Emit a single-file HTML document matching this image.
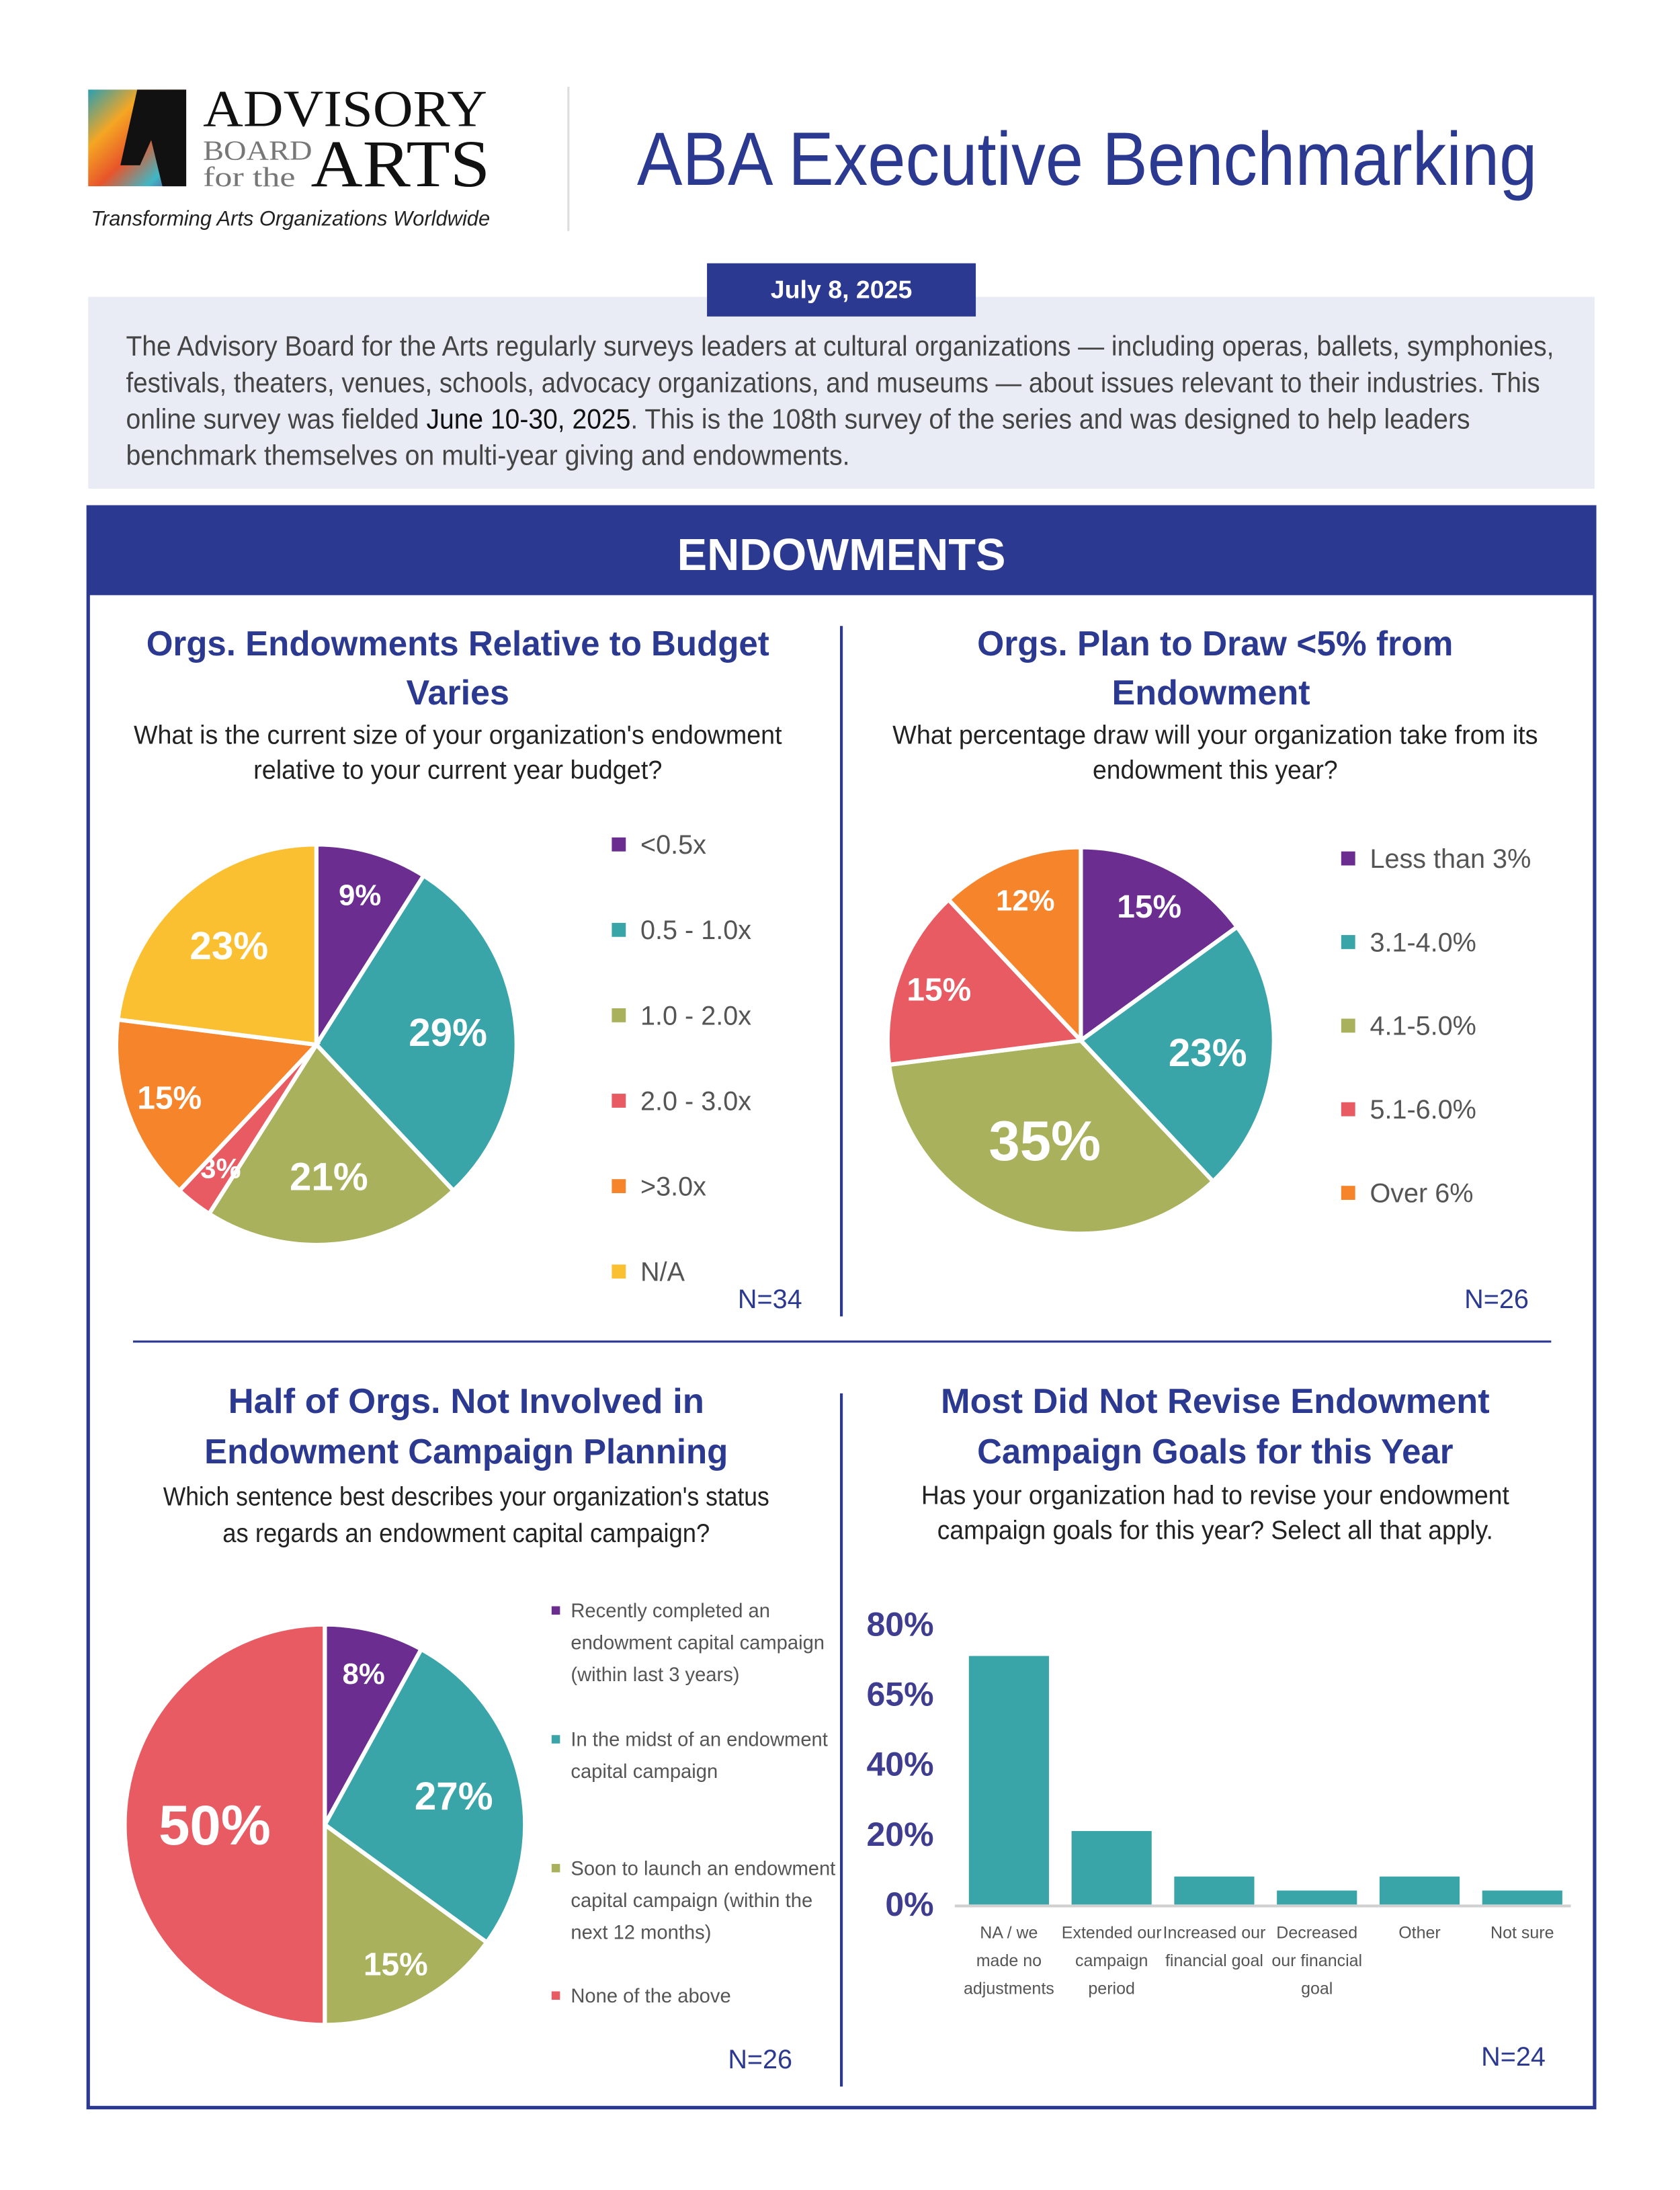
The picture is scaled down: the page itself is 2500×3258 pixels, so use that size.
<!DOCTYPE html>
<html><head><meta charset="utf-8"><title>ABA Executive Benchmarking</title>
<style>
html,body{margin:0;padding:0;background:#fff;}
svg{display:block;font-family:"Liberation Sans",sans-serif;}
</style></head>
<body>
<svg id="page" width="2500" height="3258" viewBox="0 0 1200 1563.84" xmlns="http://www.w3.org/2000/svg">
<defs>
<linearGradient id="logoGrad" x1="0" y1="0" x2="1" y2="1">
<stop offset="0" stop-color="#2a9fb0"/><stop offset="0.3" stop-color="#f5a623"/><stop offset="0.55" stop-color="#e8552a"/><stop offset="0.8" stop-color="#3fb7c4"/><stop offset="1" stop-color="#6b2d8f"/>
</linearGradient>
</defs>
<rect width="1200" height="1564" fill="#fff"/>
<g>
<rect x="63" y="64" width="70" height="69" fill="url(#logoGrad)"/>
<polygon points="98,64 133,64 133,133 116,133 108,100 100,118 86,118" fill="#111"/>
<text x="145" y="90" font-family="Liberation Serif,serif" font-size="37" fill="#111" textLength="203" lengthAdjust="spacingAndGlyphs">ADVISORY</text>
<text x="145" y="114" font-family="Liberation Serif,serif" font-size="20" fill="#777" textLength="78" lengthAdjust="spacingAndGlyphs">BOARD</text>
<text x="145" y="133" font-family="Liberation Serif,serif" font-size="20" fill="#777" textLength="66" lengthAdjust="spacingAndGlyphs">for the</text>
<text x="222" y="133" font-family="Liberation Serif,serif" font-size="48" fill="#111" textLength="128" lengthAdjust="spacingAndGlyphs">ARTS</text>
<text x="65" y="161" font-size="15" font-style="italic" fill="#222" textLength="285" lengthAdjust="spacingAndGlyphs">Transforming Arts Organizations Worldwide</text>
</g>
<line x1="406" y1="62" x2="406" y2="165" stroke="#ddd" stroke-width="1.5"/>
<text x="455" y="132" font-size="54" fill="#2B3990" textLength="643" lengthAdjust="spacingAndGlyphs">ABA Executive Benchmarking</text>
<rect x="63" y="212" width="1076" height="137" fill="#E9ECF5"/>
<rect x="505" y="188" width="192" height="38" fill="#2B3990"/>
<text x="601" y="213" font-size="18" font-weight="bold" fill="#fff" text-anchor="middle">July 8, 2025</text>
<g font-size="20" fill="#444">
<text x="90" y="254" textLength="1020" lengthAdjust="spacingAndGlyphs">The Advisory Board for the Arts regularly surveys leaders at cultural organizations — including operas, ballets, symphonies,</text>
<text x="90" y="280" textLength="1010" lengthAdjust="spacingAndGlyphs">festivals, theaters, venues, schools, advocacy organizations, and museums — about issues relevant to their industries. This</text>
<text x="90" y="306" textLength="960" lengthAdjust="spacingAndGlyphs">online survey was fielded <tspan fill="#111">June 10-30, 2025</tspan>. This is the 108th survey of the series and was designed to help leaders</text>
<text x="90" y="332" textLength="517" lengthAdjust="spacingAndGlyphs">benchmark themselves on multi-year giving and endowments.</text>
</g>
<rect x="63" y="362" width="1076" height="1143" fill="none" stroke="#2B3990" stroke-width="2.5"/>
<rect x="63" y="362" width="1076" height="63" fill="#2B3990"/>
<text x="601" y="407" font-size="32" font-weight="bold" fill="#fff" text-anchor="middle">ENDOWMENTS</text>
<line x1="601" y1="447" x2="601" y2="940" stroke="#2B3990" stroke-width="2"/>
<line x1="601" y1="995" x2="601" y2="1490" stroke="#2B3990" stroke-width="2"/>
<line x1="95" y1="958" x2="1108" y2="958" stroke="#2B3990" stroke-width="1.5"/>

<g font-weight="bold" fill="#2B3990" font-size="25" text-anchor="middle">
<text x="327" y="468" textLength="445" lengthAdjust="spacingAndGlyphs">Orgs. Endowments Relative to Budget</text>
<text x="327" y="503">Varies</text>
<text x="868" y="468" textLength="340" lengthAdjust="spacingAndGlyphs">Orgs. Plan to Draw &lt;5% from</text>
<text x="865" y="503">Endowment</text>
<text x="333" y="1009" textLength="340" lengthAdjust="spacingAndGlyphs">Half of Orgs. Not Involved in</text>
<text x="333" y="1045" textLength="374" lengthAdjust="spacingAndGlyphs">Endowment Campaign Planning</text>
<text x="868" y="1009" textLength="392" lengthAdjust="spacingAndGlyphs">Most Did Not Revise Endowment</text>
<text x="868" y="1045" textLength="340" lengthAdjust="spacingAndGlyphs">Campaign Goals for this Year</text>
</g>
<g fill="#222" font-size="18.5" text-anchor="middle">
<text x="327" y="531" textLength="463" lengthAdjust="spacingAndGlyphs">What is the current size of your organization's endowment</text>
<text x="327" y="556" textLength="292" lengthAdjust="spacingAndGlyphs">relative to your current year budget?</text>
<text x="868" y="531" textLength="461" lengthAdjust="spacingAndGlyphs">What percentage draw will your organization take from its</text>
<text x="868" y="556" textLength="175" lengthAdjust="spacingAndGlyphs">endowment this year?</text>
<text x="333" y="1075" textLength="433" lengthAdjust="spacingAndGlyphs">Which sentence best describes your organization's status</text>
<text x="333" y="1101" textLength="348" lengthAdjust="spacingAndGlyphs">as regards an endowment capital campaign?</text>
<text x="868" y="1074" textLength="420" lengthAdjust="spacingAndGlyphs">Has your organization had to revise your endowment</text>
<text x="868" y="1099" textLength="397" lengthAdjust="spacingAndGlyphs">campaign goals for this year? Select all that apply.</text>
</g>
<g fill="#2B3990" font-size="19">
<text x="527" y="934">N=34</text>
<text x="1046" y="934">N=26</text>
<text x="520" y="1477">N=26</text>
<text x="1058" y="1475">N=24</text>
</g>
<g id="charts"></g>
</svg>
<script>
// Chart 1 data
const pie1Labels = ["<0.5x", "0.5 - 1.0x", "1.0 - 2.0x", "2.0 - 3.0x", ">3.0x", "N/A"];
const pie1Values = [9, 29, 21, 3, 15, 23];
// Chart 2 data
const pie2Labels = ["Less than 3%", "3.1-4.0%", "4.1-5.0%", "5.1-6.0%", "Over 6%"];
const pie2Values = [15, 23, 35, 15, 12];
// Chart 3 data
const pie3Labels = [["Recently completed an","endowment capital campaign","(within last 3 years)"],["In the midst of an endowment","capital campaign"],["Soon to launch an endowment","capital campaign (within the","next 12 months)"],["None of the above"]];
const pie3Values = [8, 27, 15, 50];
// Chart 4 data
const barCategories = [["NA / we","made no","adjustments"],["Extended our","campaign","period"],["Increased our","financial goal"],["Decreased","our financial","goal"],["Other"],["Not sure"]];
const barValues = [71, 21, 8, 4, 8, 4];
const barTickValues = [0, 20, 40, 60, 80];
const barTickLabels = ["0%", "20%", "40%", "65%", "80%"];

const colors = ["#6B2D8F", "#3AA5A9", "#A9B15C", "#E85B63", "#F5842B", "#FBBF32"];
const NS = "http://www.w3.org/2000/svg";
const root = document.getElementById("charts");
function mk(tag, attrs, parent) {
  const e = document.createElementNS(NS, tag);
  for (const k in attrs) e.setAttribute(k, attrs[k]);
  (parent || root).appendChild(e);
  return e;
}
function pie(values, cx, cy, r, cols, name) {
  const g = mk("g", {});
  
  
  const total = values.reduce((a, b) => a + b, 0);
  let acc = 0;
  values.forEach((v, i) => {
    const a0 = acc / total * 2 * Math.PI; acc += v;
    const a1 = acc / total * 2 * Math.PI;
    const x0 = cx + r * Math.sin(a0), y0 = cy - r * Math.cos(a0);
    const x1 = cx + r * Math.sin(a1), y1 = cy - r * Math.cos(a1);
    const large = (a1 - a0) > Math.PI ? 1 : 0;
    const p = mk("path", {d: `M${cx},${cy} L${x0},${y0} A${r},${r} 0 ${large} 1 ${x1},${y1} Z`, fill: cols[i], stroke: "#fff", "stroke-width": 3}, g);
    
    
    const am = (a0 + a1) / 2;
    const frac = v / total;
    const rf = frac < 0.17 ? 0.78 : (frac > 0.3 ? 0.55 : 0.66);
    const fs = frac < 0.05 ? 20 : frac < 0.13 ? 21 : frac < 0.2 ? 23 : frac < 0.3 ? 28 : 40;
    const t = mk("text", {x: cx + r * rf * Math.sin(am), y: cy - r * rf * Math.cos(am) + fs * 0.35, "text-anchor": "middle", fill: "#fff", "font-weight": "bold", "font-size": fs}, g);
    t.textContent = Math.round(v / total * 100) + "%";
    
    
  });
}
function legend(labels, x, y0, step, sq, fs, lineH, name) {
  let y = y0;
  labels.forEach((lab, i) => {
    const lines = Array.isArray(lab) ? lab : [lab];
    const s = mk("rect", {x: x, y: y - sq / 2, width: sq, height: sq, fill: colors[i]});
    
    
    lines.forEach((ln, j) => {
      const t = mk("text", {x: x + sq + fs * 0.55, y: y + fs * 0.35 + j * lineH, "font-size": fs, fill: "#555"});
      t.textContent = ln;
      
      
    });
    y += Array.isArray(step) ? step[i] : step;
  });
}
pie(pie1Values, 226, 746, 143, colors, "pie-endowment-size");
legend(pie1Labels, 437, 603, 61, 10, 19, 0, "legend-endowment-size");
pie(pie2Values, 772, 743, 138, colors, "pie-draw-rate");
legend(pie2Labels, 958, 613, 59.7, 10, 19, 0, "legend-draw-rate");
const c3 = [colors[0], colors[1], colors[2], colors[3]];
pie(pie3Values, 232, 1303, 143, c3, "pie-campaign-status");
legend(pie3Labels, 394, 1150, [92, 92, 91, 0], 6, 14, 22.8, "legend-campaign-status");

const plotL = 682, plotR = 1122, base = 1360, top80 = 1160;
const yScale = v => base - (v - barTickValues[0]) / (barTickValues[barTickValues.length - 1] - barTickValues[0]) * (base - top80);
const step = (plotR - plotL) / barCategories.length;
const bw = step * 0.78;
const bg = mk("g", {});


barTickValues.forEach((tv, i) => {
  const t = mk("text", {x: 667, y: yScale(tv) + 8, "text-anchor": "end", "font-size": 24, "font-weight": "bold", fill: "#3F3D8F"}, bg);
  t.textContent = barTickLabels[i];
  
  
});
barValues.forEach((v, i) => {
  const x = plotL + i * step + (step - bw) / 2 + 2;
  const r = mk("rect", {x: x, y: yScale(v), width: bw, height: base - yScale(v), fill: "#3AA5A9"}, bg);
  
  
  barCategories[i].forEach((ln, j) => {
    const t = mk("text", {x: x + bw / 2, y: 1384 + j * 20, "text-anchor": "middle", "font-size": 12, fill: "#555"}, bg);
    t.textContent = ln;
    
    
  });
});
const ax = mk("line", {x1: plotL, y1: base + 1, x2: plotR, y2: base + 1, stroke: "#d0d0d0", "stroke-width": 2}, bg);


</script>
</body></html>
